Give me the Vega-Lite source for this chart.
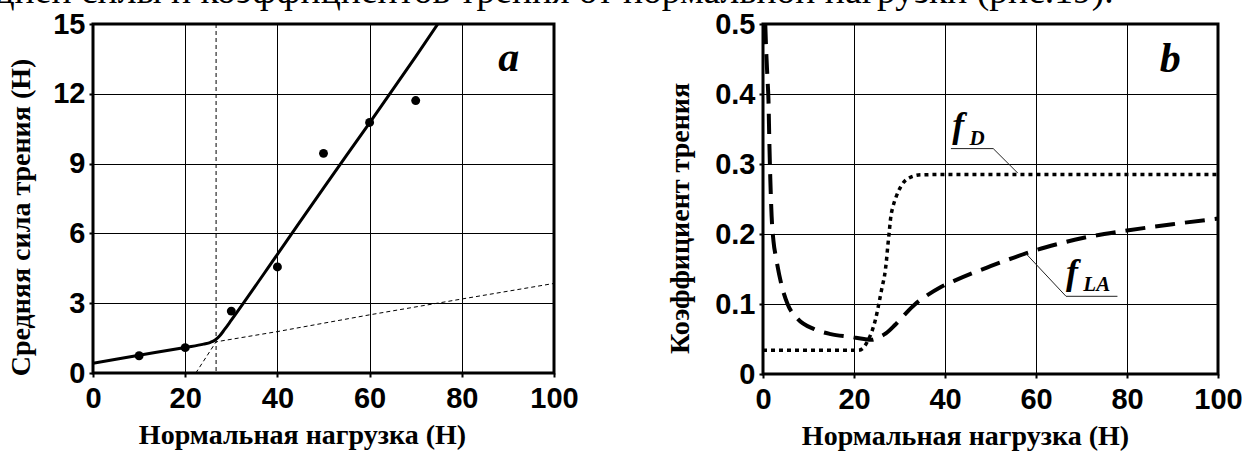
{
  "$schema": "https://vega.github.io/schema/vega-lite/v6.json",
  "padding": {"left": -5, "top": -28, "right": 0, "bottom": 0},
  "background": "white",
  "title": {
    "text": "дней силы и коэффициентов трения от нормальной нагрузки (рис.19).",
    "anchor": "start",
    "font": "Liberation Serif",
    "fontSize": 37.6,
    "fontWeight": "normal",
    "color": "black",
    "offset": -2,
    "dx": -10
  },
  "datasets": {
    "fit": [
      {"x": 0, "y": 0.42}, {"x": 10, "y": 0.76}, {"x": 20, "y": 1.1}, {"x": 24, "y": 1.24},
      {"x": 25.5, "y": 1.32}, {"x": 26.5, "y": 1.42}, {"x": 27.5, "y": 1.6}, {"x": 28.5, "y": 1.86},
      {"x": 30, "y": 2.27}, {"x": 40, "y": 5.1}, {"x": 50, "y": 7.95}, {"x": 60, "y": 10.75},
      {"x": 70, "y": 13.6}, {"x": 74.8, "y": 15}
    ],
    "ext": [
      {"x": 22.3, "y": 0}, {"x": 26.7, "y": 1.34}, {"x": 40, "y": 1.78}, {"x": 60, "y": 2.5},
      {"x": 80, "y": 3.18}, {"x": 100, "y": 3.85}
    ],
    "pts": [
      {"x": 10, "y": 0.74}, {"x": 20, "y": 1.09}, {"x": 30, "y": 2.66}, {"x": 40, "y": 4.56},
      {"x": 50, "y": 9.44}, {"x": 60, "y": 10.77}, {"x": 70, "y": 11.71}
    ],
    "fD": [
      {"x": 0, "y": 0.034}, {"x": 21, "y": 0.034}, {"x": 22, "y": 0.037}, {"x": 23, "y": 0.047},
      {"x": 24, "y": 0.062}, {"x": 24.8, "y": 0.08}, {"x": 25.6, "y": 0.105}, {"x": 26.2, "y": 0.125},
      {"x": 26.7, "y": 0.14}, {"x": 27.1, "y": 0.16}, {"x": 27.4, "y": 0.181}, {"x": 27.7, "y": 0.2},
      {"x": 28.1, "y": 0.225}, {"x": 28.6, "y": 0.24}, {"x": 29.2, "y": 0.252}, {"x": 30.3, "y": 0.268},
      {"x": 31.8, "y": 0.279}, {"x": 34.7, "y": 0.2845}, {"x": 40, "y": 0.285}, {"x": 100, "y": 0.285}
    ],
    "fLA": [
      {"x": 0.5, "y": 0.5}, {"x": 0.66, "y": 0.469}, {"x": 1.0, "y": 0.42}, {"x": 1.2, "y": 0.392},
      {"x": 1.4, "y": 0.33}, {"x": 1.6, "y": 0.28}, {"x": 1.9, "y": 0.225}, {"x": 2.3, "y": 0.19},
      {"x": 2.9, "y": 0.165}, {"x": 4.0, "y": 0.129}, {"x": 5.4, "y": 0.1}, {"x": 7.6, "y": 0.079},
      {"x": 11.3, "y": 0.064}, {"x": 14.9, "y": 0.057}, {"x": 19.3, "y": 0.053}, {"x": 22.2, "y": 0.05},
      {"x": 24, "y": 0.049}, {"x": 25.2, "y": 0.052}, {"x": 27, "y": 0.058}, {"x": 29, "y": 0.07},
      {"x": 31, "y": 0.084}, {"x": 33.3, "y": 0.099}, {"x": 36, "y": 0.112}, {"x": 39, "y": 0.124},
      {"x": 42, "y": 0.133}, {"x": 46, "y": 0.144}, {"x": 50, "y": 0.154}, {"x": 55, "y": 0.166},
      {"x": 60, "y": 0.177}, {"x": 65, "y": 0.186}, {"x": 70, "y": 0.194}, {"x": 75, "y": 0.2},
      {"x": 80, "y": 0.205}, {"x": 90, "y": 0.214}, {"x": 100, "y": 0.222}
    ],
    "leaders": [
      {"s": "D", "o": 1, "x": 41.3, "y": 0.322}, {"s": "D", "o": 2, "x": 50.6, "y": 0.322}, {"s": "D", "o": 3, "x": 56, "y": 0.287},
      {"s": "LA", "o": 1, "x": 77.9, "y": 0.111}, {"s": "LA", "o": 2, "x": 66.6, "y": 0.111}, {"s": "LA", "o": 3, "x": 57.8, "y": 0.172}
    ],
    "fmain": [{"x": 41.6, "y": 0.338}, {"x": 66.6, "y": 0.128}],
    "fsub": [{"x": 45.4, "y": 0.327, "t": "D"}, {"x": 70.4, "y": 0.119, "t": "LA"}],
    "one": [{}]
  },
  "config": {
    "view": {"stroke": "black", "strokeWidth": 3},
    "axis": {
      "grid": true, "gridColor": "black", "gridOpacity": 1, "gridWidth": 1,
      "domain": false, "tickColor": "black", "tickSize": 4, "tickWidth": 2,
      "labelFlush": false, "labelOverlap": false,
      "labelFont": "Liberation Sans", "labelFontWeight": "bold", "labelFontSize": 29, "labelColor": "black",
      "titleFont": "Liberation Serif", "titleFontWeight": "bold", "titleFontSize": 28, "titleColor": "black"
    },
    "axisX": {"labelPadding": 7, "titlePadding": 8},
    "axisY": {"labelPadding": 4}
  },
  "bounds": "flush",
  "spacing": 209,
  "hconcat": [
    {
      "width": 461, "height": 349,
      "layer": [
        {
          "data": {"name": "one"},
          "mark": {"type": "rule", "strokeDash": [4, 3], "strokeWidth": 1, "color": "black"},
          "encoding": {"x": {"datum": 26.7, "type": "quantitative"}}
        },
        {
          "data": {"name": "ext"},
          "mark": {"type": "line", "strokeDash": [4, 3], "strokeWidth": 1, "color": "black"},
          "encoding": {
            "x": {"field": "x", "type": "quantitative", "scale": {"domain": [0, 100], "nice": false},
              "axis": {"values": [0, 20, 40, 60, 80, 100], "title": "Нормальная нагрузка (Н)", "titleX": 209}},
            "y": {"field": "y", "type": "quantitative", "scale": {"domain": [0, 15], "nice": false},
              "axis": {"values": [0, 3, 6, 9, 12, 15], "title": "Средняя сила трения (Н)", "titleX": -58, "titleY": 193, "titleBaseline": "bottom"}}
          }
        },
        {
          "data": {"name": "fit"},
          "mark": {"type": "line", "strokeWidth": 3, "color": "black", "interpolate": "monotone", "clip": true},
          "encoding": {
            "x": {"field": "x", "type": "quantitative"},
            "y": {"field": "y", "type": "quantitative"}
          }
        },
        {
          "data": {"name": "pts"},
          "mark": {"type": "circle", "size": 80, "color": "black", "opacity": 1},
          "encoding": {
            "x": {"field": "x", "type": "quantitative"},
            "y": {"field": "y", "type": "quantitative"}
          }
        },
        {
          "data": {"name": "one"},
          "mark": {"type": "text", "font": "Liberation Serif", "fontWeight": "bold", "fontStyle": "italic", "fontSize": 42, "align": "center", "baseline": "alphabetic", "color": "black"},
          "encoding": {
            "x": {"datum": 90.2, "type": "quantitative"},
            "y": {"datum": 12.99, "type": "quantitative"},
            "text": {"value": "a"}
          }
        }
      ]
    },
    {
      "width": 455, "height": 350,
      "layer": [
        {
          "data": {"name": "fD"},
          "mark": {"type": "line", "strokeDash": [4, 4], "strokeWidth": 3.5, "color": "black", "interpolate": "monotone", "clip": true},
          "encoding": {
            "x": {"field": "x", "type": "quantitative", "scale": {"domain": [0, 100], "nice": false},
              "axis": {"values": [0, 20, 40, 60, 80, 100], "title": "Нормальная нагрузка (Н)", "titleX": 202}},
            "y": {"field": "y", "type": "quantitative", "scale": {"domain": [0, 0.5], "nice": false},
              "axis": {"values": [0, 0.1, 0.2, 0.3, 0.4, 0.5], "title": "Коэффициент трения", "titleX": -69, "titleY": 194, "titleBaseline": "bottom", "labelExpr": "datum.value == 0 ? '0' : format(datum.value, '.1f')"}}
          }
        },
        {
          "data": {"name": "fLA"},
          "mark": {"type": "line", "strokeDash": [20, 10], "strokeWidth": 4, "color": "black", "interpolate": "monotone", "clip": true},
          "encoding": {
            "x": {"field": "x", "type": "quantitative"},
            "y": {"field": "y", "type": "quantitative"}
          }
        },
        {
          "data": {"name": "leaders"},
          "mark": {"type": "line", "strokeWidth": 1, "color": "#222222"},
          "encoding": {
            "x": {"field": "x", "type": "quantitative"},
            "y": {"field": "y", "type": "quantitative"},
            "detail": {"field": "s"},
            "order": {"field": "o"}
          }
        },
        {
          "data": {"name": "fmain"},
          "mark": {"type": "text", "font": "Liberation Serif", "fontWeight": "bold", "fontStyle": "italic", "fontSize": 36, "align": "left", "baseline": "alphabetic", "color": "black"},
          "encoding": {
            "x": {"field": "x", "type": "quantitative"},
            "y": {"field": "y", "type": "quantitative"},
            "text": {"value": "f"}
          }
        },
        {
          "data": {"name": "fsub"},
          "mark": {"type": "text", "font": "Liberation Serif", "fontWeight": "bold", "fontStyle": "italic", "fontSize": 21, "align": "left", "baseline": "alphabetic", "color": "black"},
          "encoding": {
            "x": {"field": "x", "type": "quantitative"},
            "y": {"field": "y", "type": "quantitative"},
            "text": {"field": "t"}
          }
        },
        {
          "data": {"name": "one"},
          "mark": {"type": "text", "font": "Liberation Serif", "fontWeight": "bold", "fontStyle": "italic", "fontSize": 42, "align": "center", "baseline": "alphabetic", "color": "black"},
          "encoding": {
            "x": {"datum": 89.5, "type": "quantitative"},
            "y": {"datum": 0.432, "type": "quantitative"},
            "text": {"value": "b"}
          }
        }
      ]
    }
  ]
}
